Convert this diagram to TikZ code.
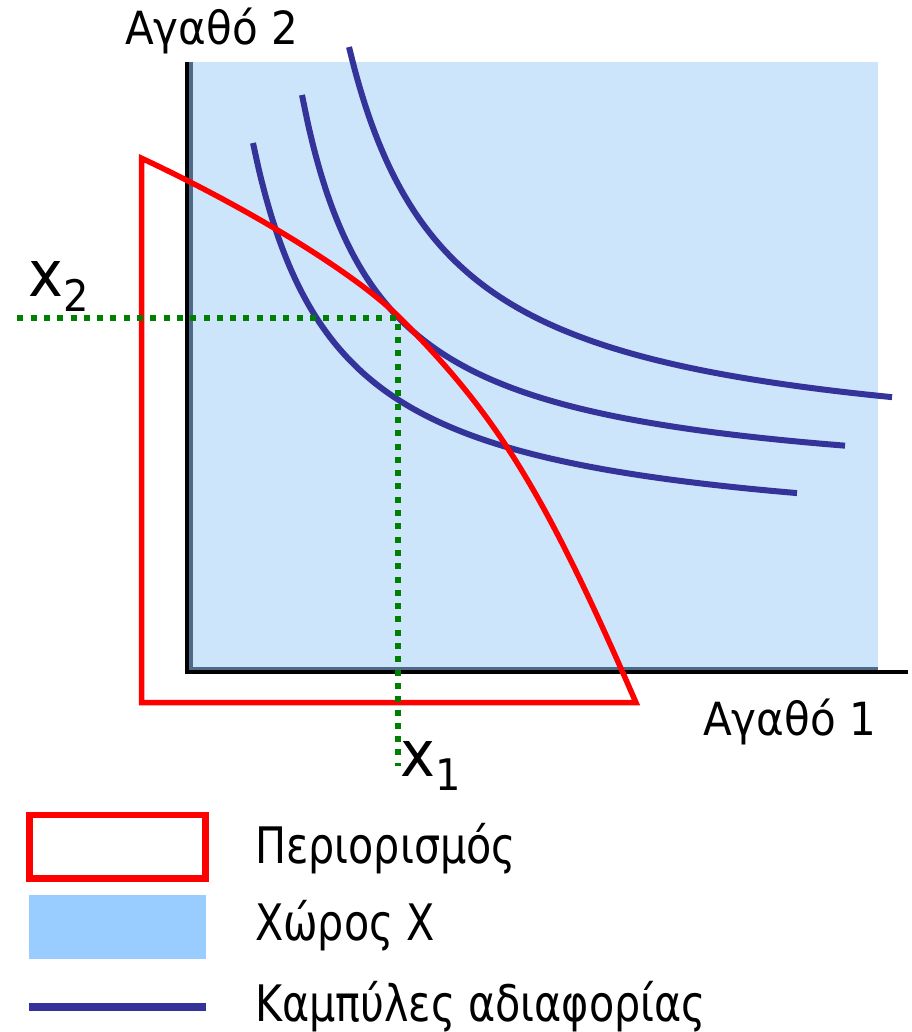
\documentclass[tikz,border=0pt]{standalone}
\usepackage{fontspec}
\setmainfont{DejaVu Sans}
\newfontfamily\labelfont[FakeStretch=0.92]{DejaVu Sans}
\newfontfamily\legendfont[FakeStretch=0.82]{DejaVu Sans}
\definecolor{areablue}{RGB}{204,229,251}
\definecolor{keyblue}{RGB}{153,204,255}
\definecolor{curvenavy}{RGB}{51,51,153}
\definecolor{guidegreen}{RGB}{0,128,0}
\definecolor{shadowslate}{RGB}{79,106,136}
\begin{document}
\begin{tikzpicture}[x=1pt,y=-1pt,
  indiff/.style={curvenavy,line width=6pt},
  budget/.style={red,line width=5.5pt,line join=miter},
  guide/.style={guidegreen,line width=6pt,dash pattern=on 6pt off 7.3pt},
  axislabel/.style={inner sep=0pt,anchor=base west,font=\labelfont\fontsize{45.7}{50}\selectfont},
  keylabel/.style={inner sep=0pt,anchor=base west,font=\legendfont\fontsize{50.3}{55}\selectfont}]
  \useasboundingbox (0,0) rectangle (911,1032);
  % Χώρος X with its shadow and the axes
  \fill[areablue] (193,62) rectangle (878,667);
  \fill[shadowslate] (189,62) rectangle (193,669.5);
  \fill[shadowslate] (189,667) rectangle (878,669.5);
  \draw[line width=4.5pt,line join=miter] (187,62) -- (187,671.8) -- (908,671.8);
  \node[axislabel] (good2) at (125,45) {Αγαθό 2};
  \node[axislabel] (good1) at (703,735) {Αγαθό 1};
  % Καμπύλες:  c - k/(x-b)
  \draw[indiff,domain=253:797,samples=90,smooth] plot (\x,{546.5-33.489/(\x-170)*1000});
  \draw[indiff,domain=302:845,samples=90,smooth] plot (\x,{495.4-30.834/(\x-225)*1000});
  \draw[indiff,domain=349:892,samples=90,smooth] plot (\x,{461-40.986/(\x-250)*1000});
  % Περιορισμός, touching the middle curve at (opt)
  \coordinate (opt) at (400,318);
  \draw[budget] (141.7,702.7) -- (141.7,158.3) .. controls (253.3,210.7) and (356.6,274.6) .. (opt)
    .. controls (497.3,415.3) and (544.5,492.2) .. (636,702.7) -- cycle;
  % x1, x2
  \coordinate (xtwoend) at (17.3,318.3);
  \coordinate (xoneend) at (397.5,766);
  \draw[guide] (xtwoend) -- (397.5,318.3) -- (xoneend);
  \node[axislabel] (xtwo) at (28,296.7) {\fontsize{64}{70}\selectfont x\raisebox{-15pt}{\fontsize{43.5}{48}\selectfont 2}};
  \node[axislabel] (xone) at (400,776) {\fontsize{64}{70}\selectfont x\raisebox{-14pt}{\fontsize{43.5}{48}\selectfont 1}};
  % legend
  \draw[red,line width=6.5pt,line join=miter] (29.3,815) rectangle (205.7,878.3);
  \fill[keyblue] (29,895) rectangle (206,959);
  \draw[indiff,line width=8pt] (29.3,1006.7) -- (205.7,1006.7);
  \node[keylabel] (keybudget) at (255,863.3) {Περιορισμός};
  \node[keylabel] (keyarea) at (255,940) {Χώρος X};
  \node[keylabel] (keycurves) at (255,1021) {Καμπύλες αδιαφορίας};
\end{tikzpicture}
\end{document}
